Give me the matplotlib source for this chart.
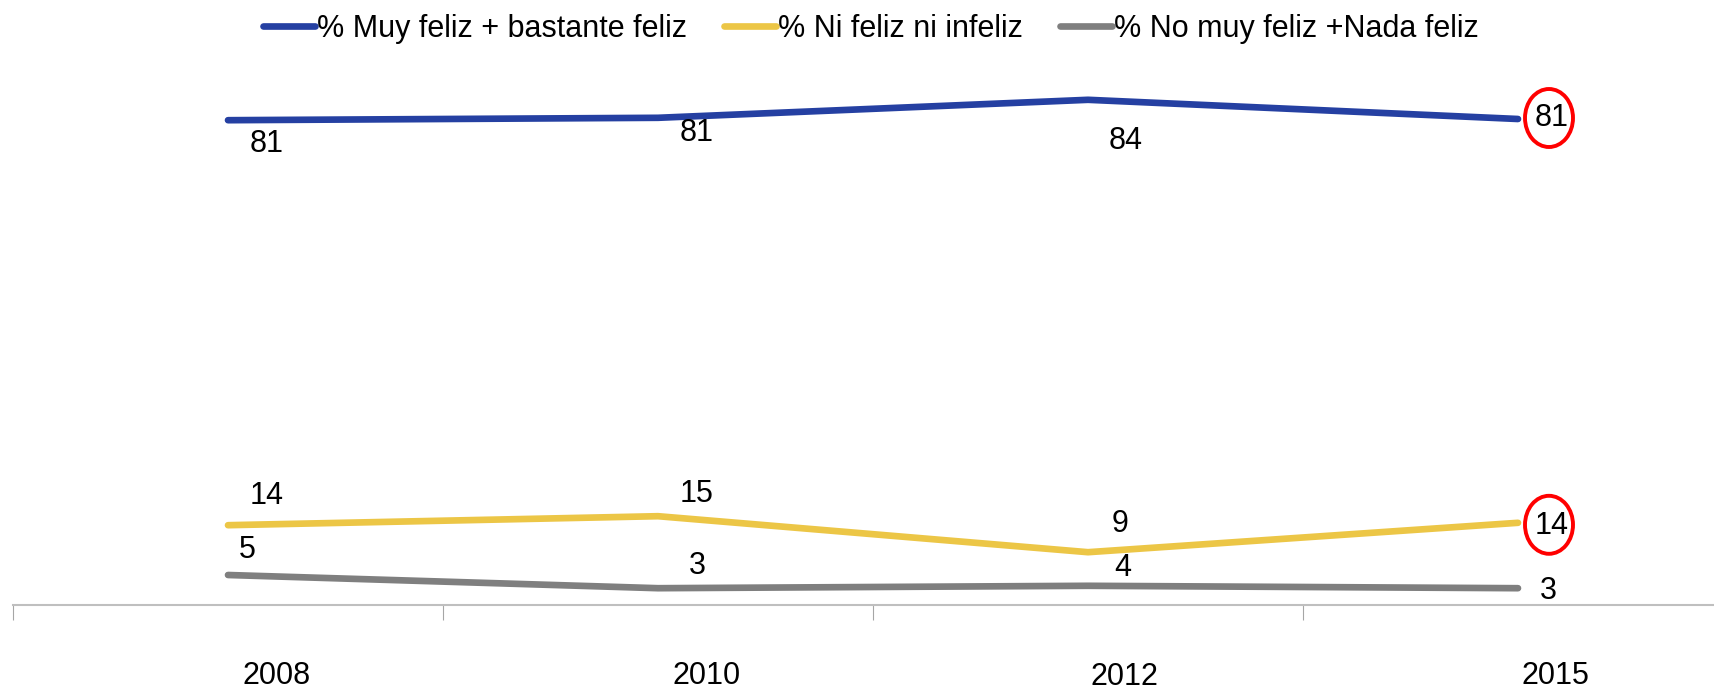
import numpy as np
import matplotlib
matplotlib.use("Agg")
import matplotlib.pyplot as plt
from matplotlib.patches import Ellipse

plt.rcParams['font.family'] = ['Liberation Sans', 'DejaVu Sans']

# Data
years = ['2008', '2010', '2012', '2015']
feliz = [80.8, 81.2, 84.2, 81.0]
ni_feliz = [13.3, 14.8, 8.8, 13.7]
no_feliz = [5.0, 2.8, 3.2, 2.8]

feliz_labels = ['81', '81', '84', '81']
ni_feliz_labels = ['14', '15', '9', '14']
no_feliz_labels = ['5', '3', '4', '3']

series_names = ['% Muy feliz + bastante feliz', '% Ni feliz ni infeliz', '% No muy feliz +Nada feliz']
colors = ['#2540A2', '#ECC646', '#7F7F7F']

fig = plt.figure(figsize=(17.14, 6.91), dpi=100)
# axis runs past the right edge of the figure, as in the original
ax = fig.add_axes([13 / 1714, 1 - 605 / 691, 1720 / 1714, 600 / 691])

x = np.arange(len(years))
lines = []
for vals, c, name in zip([feliz, ni_feliz, no_feliz], colors, series_names):
    ln, = ax.plot(x, vals, color=c, lw=4.8, solid_capstyle='round', label=name)
    lines.append(ln)

ax.set_xlim(-0.5, 3.5)
ax.set_ylim(0, 100)

# data labels (offsets in points)
fs = 22
offs_feliz = [(28, -17), (28, -11), (27, -30), (24, 1)]
offs_ni = [(28, 21), (28, 16), (23, 20), (24, -2)]
offs_no = [(14, 18), (28, 16), (25, 13), (22, -2)]
for vals, labs, offs in [(feliz, feliz_labels, offs_feliz),
                         (ni_feliz, ni_feliz_labels, offs_ni),
                         (no_feliz, no_feliz_labels, offs_no)]:
    for i, (v, lab, o) in enumerate(zip(vals, labs, offs)):
        ax.annotate(lab, (x[i], v), xytext=o, textcoords='offset points',
                    ha='center', va='center', fontsize=fs, color='black')

# red circles highlighting 2015 (drawn in pixel coordinates)
for v, dy in [(feliz[3], 1), (ni_feliz[3], -2)]:
    px, py = ax.transData.transform((x[3], v))
    ax.add_patch(Ellipse((px + 31, py + dy), 48, 58, fill=False,
                         ec='#FF0000', lw=2.8, transform=None, clip_on=False))

# category axis: ticks between categories
for s in ['top', 'right', 'left']:
    ax.spines[s].set_visible(False)
ax.spines['bottom'].set_color('#BFBFBF')
ax.spines['bottom'].set_linewidth(1.5)
ax.set_yticks([])
ax.set_xticks(np.arange(-0.5, 3.6, 1.0))
ax.set_xticklabels([])
ax.tick_params(axis='x', length=11, width=0.8, color='#A6A6A6', direction='out')

# year labels sit right of the category centers
year_offs = [(35, -51), (35, -51), (26, -52), (27, -51)]
for i, (yr, o) in enumerate(zip(years, year_offs)):
    ax.annotate(yr, (x[i], 0), xytext=o, textcoords='offset points',
                ha='center', va='center', fontsize=fs, annotation_clip=False)

fig.legend(handles=lines, loc='center', bbox_to_anchor=(0.508, 1 - 29 / 691),
           ncol=3, frameon=False, fontsize=fs, handlelength=1.7,
           handletextpad=0.08, columnspacing=1.2, borderpad=0)

fig.savefig('out.png', dpi=100)
